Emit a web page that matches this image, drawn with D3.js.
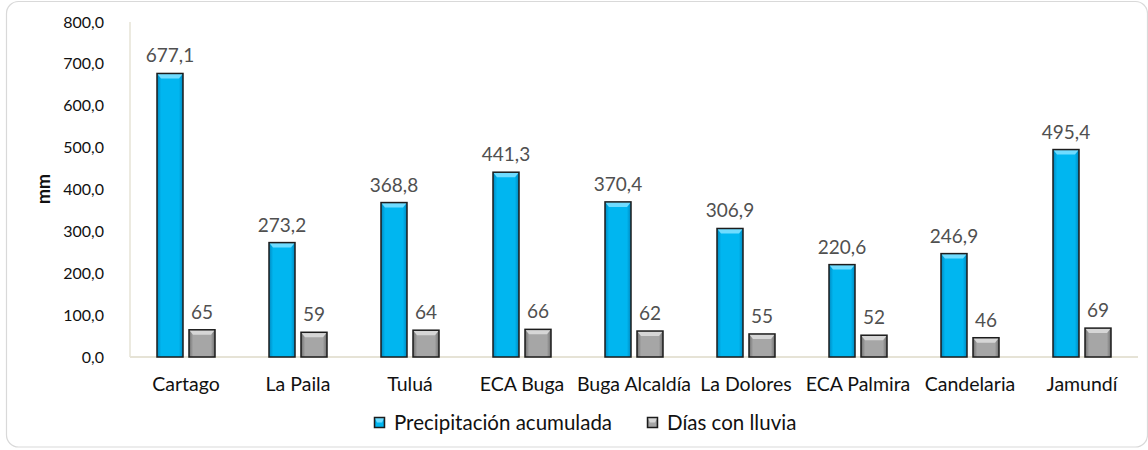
<!DOCTYPE html>
<html>
<head>
<meta charset="utf-8">
<script src="https://cdn.jsdelivr.net/npm/d3@7"></script>
<style>
  body { margin: 0; background: #fff; }
  svg { display: block; font-family: Lato, "Open Sans", sans-serif; }
  .tick-label { font-size: 16px; fill: #111; }
  .cat-label { font-size: 19.5px; fill: #111; }
  .value-label { font-size: 19px; fill: #505050; }
  .legend-label { font-size: 20.5px; fill: #111; }
</style>
</head>
<body>
<div id="chart"></div>
<script>
const categories = ['Cartago', 'La Paila', 'Tuluá', 'ECA Buga', 'Buga Alcaldía', 'La Dolores', 'ECA Palmira', 'Candelaria', 'Jamundí'];
const precipitacion = [677.1, 273.2, 368.8, 441.3, 370.4, 306.9, 220.6, 246.9, 495.4];
const diasLluvia = [65, 59, 64, 66, 62, 55, 52, 46, 69];
const seriesNames = ['Precipitación acumulada', 'Días con lluvia'];
const yTicks = [0, 100, 200, 300, 400, 500, 600, 700, 800];

const width = 1148;
const height = 450;
const plot = {left: 130, right: 1138, top: 22, bottom: 357};

const locale = d3.formatLocale({decimal: ',', thousands: '.', grouping: [3], currency: ['', '']});
const fmt1 = locale.format('.1f');
const fmt0 = locale.format('d');

const svg = d3.select('#chart').append('svg')
  .attr('width', width)
  .attr('height', height)

// bevel gradients
const defs = svg.append('defs');
const styles = [
  {id: 'blue', dark: '#0088bf', base: '#00b6f0', light: '#6fdcff'},
  {id: 'gray', dark: '#6f6f6f', base: '#a6a6a6', light: '#d6d6d6'}
];
styles.forEach(s => {
  let g = defs.append('linearGradient').attr('id', 'grad-' + s.id)
    .attr('x1', 0).attr('x2', 1).attr('y1', 0).attr('y2', 0);
  g.append('stop').attr('offset', '0%').attr('stop-color', s.dark);
  g.append('stop').attr('offset', '16%').attr('stop-color', s.base);
  g.append('stop').attr('offset', '84%').attr('stop-color', s.base);
  g.append('stop').attr('offset', '100%').attr('stop-color', s.dark);
});

// outer frame
svg.append('rect')
  .attr('x', 6.5).attr('y', 1.5)
  .attr('width', 1141).attr('height', 445.5)
  .attr('rx', 12)
  .attr('fill', '#fff')
  .attr('stroke', '#d9d9d9')
  .attr('stroke-width', 1.2)

let y = d3.scaleLinear()
  .domain([0, 800])
  .range([plot.bottom, plot.top])

let x0 = d3.scaleBand()
  .domain(categories)
  .range([plot.left, plot.right])

let x1 = d3.scaleBand()
  .domain(seriesNames)
  .range([-29, 29])
  .paddingInner(0.1875)

// axes lines
svg.append('line')
  .attr('x1', plot.left).attr('x2', plot.left)
  .attr('y1', plot.top).attr('y2', plot.bottom)
  .attr('stroke', '#e6e3d6').attr('stroke-width', 1.5)

svg.append('line')
  .attr('x1', plot.left).attr('x2', plot.right)
  .attr('y1', plot.bottom).attr('y2', plot.bottom)
  .attr('stroke', '#e6e3d6').attr('stroke-width', 2)

svg.selectAll('text.tick-label').data(yTicks).enter().append('text')
  .classed('tick-label', true)
  .attr('x', 104)
  .attr('y', d => y(d))
  .attr('dy', '0.35em')
  .attr('text-anchor', 'end')
  .text(d => fmt1(d))

svg.append('text')
  .attr('transform', 'translate(50, 189) rotate(-90)')
  .attr('text-anchor', 'middle')
  .style('font-size', '18px')
  .style('font-weight', 'bold')
  .style('fill', '#111')
  .text('mm')

svg.selectAll('text.cat-label').data(categories).enter().append('text')
  .classed('cat-label', true)
  .attr('x', d => x0(d) + x0.bandwidth() / 2)
  .attr('y', 391)
  .attr('text-anchor', 'middle')
  .text(d => d)

let drawBar = (g, x, w, top, bottom, st) => {
  let h = bottom - top;
  g.append('rect')
    .attr('x', x).attr('y', top)
    .attr('width', w).attr('height', h)
    .attr('fill', `url(#grad-${st.id})`)
  let b = Math.min(5, h / 2);
  let inset = Math.min(4, w / 4);
  g.append('path')
    .attr('d', `M${x},${top} L${x + w},${top} L${x + w - inset},${top + b} L${x + inset},${top + b} Z`)
    .attr('fill', st.light)
  g.append('rect')
    .attr('x', x).attr('y', top)
    .attr('width', w).attr('height', h)
    .attr('fill', 'none')
    .attr('stroke', '#1c1c1c')
    .attr('stroke-width', 1.5)
}

let rows = categories.map((c, i) => ({cat: c, values: [precipitacion[i], diasLluvia[i]]}));

let groups = svg.selectAll('g.cat').data(rows).enter().append('g')
  .classed('cat', true)
  .attr('transform', d => `translate(${x0(d.cat) + x0.bandwidth() / 2}, 0)`)

groups.each(function (d) {
  let g = d3.select(this);
  d.values.forEach((v, k) => {
    let bx = x1(seriesNames[k]);
    drawBar(g, bx, x1.bandwidth(), y(v), plot.bottom, styles[k]);
    g.append('text')
      .classed('value-label', true)
      .attr('x', bx + x1.bandwidth() / 2)
      .attr('y', y(v) - 11)
      .attr('text-anchor', 'middle')
      .text(k === 0 ? fmt1(v) : fmt0(v))
  })
})

// legend
let legend = svg.append('g').attr('transform', 'translate(374, 0)');
let legendX = [0, 273];
seriesNames.forEach((name, k) => {
  let lg = legend.append('g').attr('transform', `translate(${legendX[k]}, 417)`);
  drawBar(lg, 0.5, 10, 0.5, 10.5, styles[k]);
  lg.append('text')
    .classed('legend-label', true)
    .attr('x', 20)
    .attr('y', 13)
    .text(name)
})
</script>
</body>
</html>
